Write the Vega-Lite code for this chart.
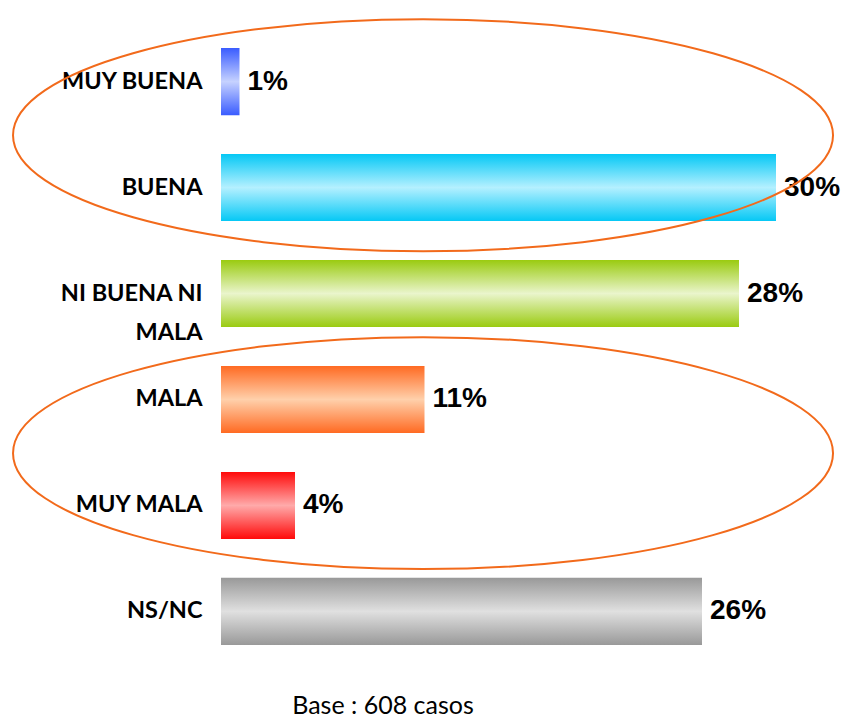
{
  "$schema": "https://vega.github.io/schema/vega-lite/v6.json",
  "width": 592,
  "height": 635,
  "autosize": {"type": "none"},
  "padding": {"left": 221, "top": 29, "right": 28, "bottom": 56},
  "background": "white",
  "config": {"view": {"stroke": null}},
  "title": {"text": "Base : 608 casos", "orient": "bottom", "anchor": "middle", "frame": "group", "dx": -134, "offset": 30, "font": "Lato", "fontSize": 25, "fontWeight": "normal", "color": "black"},
  "data": {"values": [
    {"cat": "MUY BUENA", "pct": 1},
    {"cat": "BUENA", "pct": 30},
    {"cat": "NI BUENA NI MALA", "pct": 28},
    {"cat": "MALA", "pct": 11},
    {"cat": "MUY MALA", "pct": 4},
    {"cat": "NS/NC", "pct": 26}
  ]},
  "encoding": {
    "y": {"field": "cat", "type": "nominal", "sort": null,
      "scale": {"domain": ["MUY BUENA", "BUENA", "NI BUENA NI MALA", "MALA", "MUY MALA", "NS/NC"], "paddingInner": 0.367, "paddingOuter": 0.18},
      "axis": {"title": null, "ticks": false, "domain": false, "labelPadding": 19, "labelFont": "Lato", "labelFontSize": 23.5, "labelFontWeight": "bold", "labelColor": "black", "labelLimit": 300, "labelLineHeight": 39,
        "labelExpr": "datum.value == 'NI BUENA NI MALA' ? ['NI BUENA NI', 'MALA'] : datum.value"}},
    "x": {"field": "pct", "type": "quantitative", "scale": {"domain": [0, 32]}, "axis": null}
  },
  "layer": [
    {"transform": [{"filter": "datum.cat == 'MUY BUENA'"}],
     "mark": {"type": "bar", "fill": {"gradient": "linear", "x1": 0, "y1": 0, "x2": 0, "y2": 1, "stops": [{"offset": 0, "color": "#3a5cff"}, {"offset": 0.5, "color": "#c6d2ff"}, {"offset": 1, "color": "#3a5cff"}]}}},
    {"transform": [{"filter": "datum.cat == 'BUENA'"}],
     "mark": {"type": "bar", "fill": {"gradient": "linear", "x1": 0, "y1": 0, "x2": 0, "y2": 1, "stops": [{"offset": 0, "color": "#05c8f5"}, {"offset": 0.5, "color": "#b4f0ff"}, {"offset": 1, "color": "#05c8f5"}]}}},
    {"transform": [{"filter": "datum.cat == 'NI BUENA NI MALA'"}],
     "mark": {"type": "bar", "fill": {"gradient": "linear", "x1": 0, "y1": 0, "x2": 0, "y2": 1, "stops": [{"offset": 0, "color": "#9acb10"}, {"offset": 0.5, "color": "#eaf5cc"}, {"offset": 1, "color": "#9acb10"}]}}},
    {"transform": [{"filter": "datum.cat == 'MALA'"}],
     "mark": {"type": "bar", "fill": {"gradient": "linear", "x1": 0, "y1": 0, "x2": 0, "y2": 1, "stops": [{"offset": 0, "color": "#ff6a22"}, {"offset": 0.5, "color": "#ffd0ab"}, {"offset": 1, "color": "#ff6a22"}]}}},
    {"transform": [{"filter": "datum.cat == 'MUY MALA'"}],
     "mark": {"type": "bar", "fill": {"gradient": "linear", "x1": 0, "y1": 0, "x2": 0, "y2": 1, "stops": [{"offset": 0, "color": "#ff0a0a"}, {"offset": 0.5, "color": "#ffaaaa"}, {"offset": 1, "color": "#ff0a0a"}]}}},
    {"transform": [{"filter": "datum.cat == 'NS/NC'"}],
     "mark": {"type": "bar", "fill": {"gradient": "linear", "x1": 0, "y1": 0, "x2": 0, "y2": 1, "stops": [{"offset": 0, "color": "#999999"}, {"offset": 0.5, "color": "#e0e0e0"}, {"offset": 1, "color": "#999999"}]}}},
    {"transform": [{"calculate": "format(datum.pct, 'd') + '%'", "as": "label"}],
     "mark": {"type": "text", "align": "left", "baseline": "middle", "dx": 8, "font": "Liberation Sans", "fontSize": 28, "fontWeight": "bold", "color": "black"},
     "encoding": {"text": {"field": "label", "type": "nominal"}}},
    {"data": {"values": [{"cat": "MUY BUENA", "xc": 10.92}, {"cat": "MALA", "xc": 10.92}]},
     "mark": {"type": "point", "shape": "M-1,0A1,0.2829,0,1,1,1,0A1,0.2829,0,1,1,-1,0Z", "size": 672400, "filled": false, "stroke": "#f26a1b", "strokeWidth": 2, "opacity": 1},
     "encoding": {
       "y": {"field": "cat", "type": "nominal", "bandPosition": 1.3},
       "x": {"field": "xc", "type": "quantitative"}
     }}
  ]
}
